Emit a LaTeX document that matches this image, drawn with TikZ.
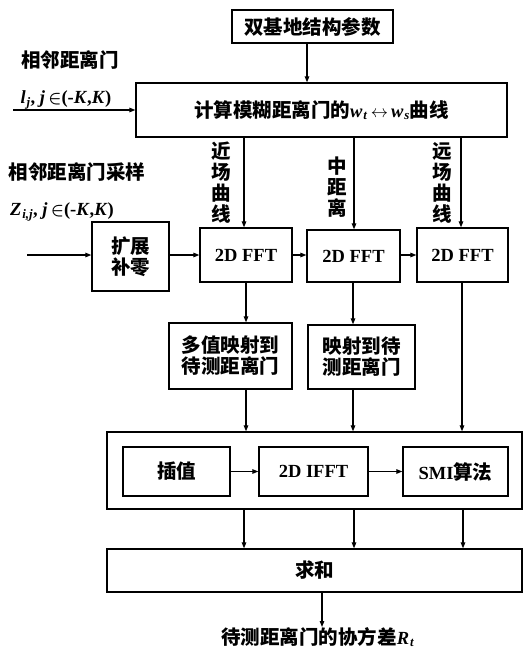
\documentclass[tikz,border=0pt]{standalone}
\usepackage{fontspec}
\usepackage{bm}
\setmainfont{Liberation Serif}
\newfontfamily\cjk{Noto Sans CJK SC}
\usetikzlibrary{arrows.meta}
\newcommand\zh[1]{{\fontsize{19.5}{21}\selectfont\cjk\bfseries #1}}
\newcommand\bi[1]{\textbf{\textit{#1}}}
\newcommand\sub[1]{\kern0.8pt\textsubscript{\bi{#1}}}
\newcommand\fs{\fontsize{18.5}{21}\selectfont\bfseries}
\begin{document}
\begin{tikzpicture}[x=1pt,y=-1pt,
  box/.style={draw, line width=1.3pt, inner sep=0pt, align=center, font=\fs},
  lbl/.style={inner sep=0pt, align=center, font=\fs},
  arr/.style={-{Triangle[length=6pt,width=4.5pt]}, line width=1.2pt}]
\useasboundingbox (0,0) rectangle (529,650);
% top
\node[box, minimum width=161pt, minimum height=33pt] (top) at (312.5,26.5) {\zh{双基地结构参数}};
\node[box, minimum width=371pt, minimum height=54pt] (calc) at (321.5,110)
  {\zh{计算模糊距离门的}\bi{w}\sub{t}\,$\leftrightarrow$\,\bi{w}\sub{s}\zh{曲线}};
\coordinate (topout) at (307,43);
\draw[arr] (topout) -- (topout |- calc.north);
% left labels
\node[lbl] (l1) at (70,60) {\zh{相邻距离门}};
\node[lbl] (l2) at (66,100) {\bi{l}\sub{j}\textbf{,} \bi{j}\,$\bm{\in}$\textbf{(-}\bi{K}\textbf{,}\bi{K}\textbf{)}};
\coordinate (in1) at (13,110);
\draw[arr] (in1) -- (calc.west);
\node[lbl] (l3) at (77,172) {\zh{相邻距离门采样}};
\node[lbl] (l4) at (62,212) {\bi{Z}\sub{i,j}\textbf{,} \bi{j}\,$\bm{\in}$\textbf{(-}\bi{K}\textbf{,}\bi{K}\textbf{)}};
% FFT row
\node[box, minimum width=77pt, minimum height=69pt] (ext) at (130.5,256.5) {\zh{扩展}\\\zh{补零}};
\node[box, minimum width=92pt, minimum height=54pt] (f1) at (246,255) {2D FFT};
\node[box, minimum width=93pt, minimum height=52pt] (f2) at (353.5,256) {2D FFT};
\node[box, minimum width=91pt, minimum height=54pt] (f3) at (462.5,255) {2D FFT};
\coordinate (in2) at (27,255);
\draw[arr] (in2) -- (in2 -| ext.west);
\draw[arr] (ext.east |- f1) -- (f1.west);
\draw[arr] (f1.east) -- (f1.east -| f2.west);
\draw[arr] (f2.east |- f1) -- (f1 -| f3.west);
% curves
\draw[arr] (calc.south -| 244,0) -- (244,0 |- f1.north);
\draw[arr] (calc.south -| 354,0) -- (354,0 |- f2.north);
\draw[arr] (calc.south -| 461,0) -- (461,0 |- f3.north);
\node[lbl] (c1) at (221,183) {\zh{近}\\\zh{场}\\\zh{曲}\\\zh{线}};
\node[lbl] (c2) at (337,187) {\zh{中}\\\zh{距}\\\zh{离}};
\node[lbl] (c3) at (442,183) {\zh{远}\\\zh{场}\\\zh{曲}\\\zh{线}};
% mapping
\node[box, minimum width=123pt, minimum height=66pt] (m1) at (230.5,356) {\zh{多值映射到}\\\zh{待测距离门}};
\node[box, minimum width=107pt, minimum height=64pt] (m2) at (361.5,357) {\zh{映射到待}\\\zh{测距离门}};
% outer
\node[box, minimum width=415pt, minimum height=77pt] (outer) at (314.5,470.5) {};
\node[box, minimum width=107pt, minimum height=49pt] (i1) at (176.5,471.5) {\zh{插值}};
\node[box, minimum width=109pt, minimum height=49pt] (i2) at (313.5,471.5) {2D IFFT};
\node[box, minimum width=105pt, minimum height=49pt] (i3) at (455.5,471.5) {SMI\zh{算法}};
\draw[arr] (i1.east) -- (i2.west);
\draw[arr] (i2.east) -- (i3.west);
\draw[arr] (f1.south -| 246,0) -- (246,0 |- m1.north);
\draw[arr] (f2.south -| 353,0) -- (353,0 |- m2.north);
\draw[arr] (m1.south -| 246,0) -- (246,0 |- outer.north);
\draw[arr] (m2.south -| 353,0) -- (353,0 |- outer.north);
\draw[arr] (f3.south -| 462,0) -- (462,0 |- outer.north);
% sum
\node[box, minimum width=415pt, minimum height=43pt] (sum) at (314.5,570.5) {\zh{求和}};
\draw[arr] (outer.south -| 244,0) -- (244,0 |- sum.north);
\draw[arr] (outer.south -| 354,0) -- (354,0 |- sum.north);
\draw[arr] (outer.south -| 463,0) -- (463,0 |- sum.north);
\node[lbl, anchor=north] (res) at (318,627) {\zh{待测距离门的协方差}\bi{R}\sub{t}};
\draw[arr] (sum.south -| 322,0) -- (322,0 |- res.north);
\end{tikzpicture}
\end{document}
